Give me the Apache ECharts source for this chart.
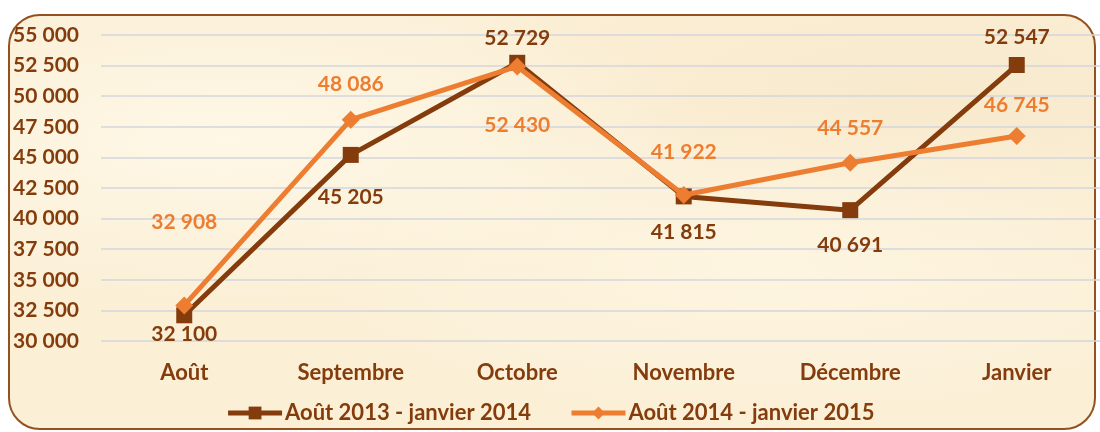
<!DOCTYPE html>
<html>
<head>
<meta charset="utf-8">
<script src="https://cdn.jsdelivr.net/npm/echarts@6/dist/echarts.min.js"></script>
<style>
  html, body { margin: 0; padding: 0; background: #ffffff; }
  #wrap { position: relative; width: 1100px; height: 432px; overflow: hidden; }
  #frame {
    position: absolute; left: 8px; top: 14px; width: 1088px; height: 416px;
    border: 2px solid #94501F; border-radius: 32px; box-sizing: border-box;
    background:
      radial-gradient(ellipse at 20% 30%, rgba(255,250,235,0.8), rgba(255,250,235,0) 40%),
      radial-gradient(ellipse at 70% 60%, rgba(255,248,230,0.7), rgba(255,248,230,0) 45%),
      radial-gradient(ellipse at 85% 20%, rgba(245,228,195,0.5), rgba(245,228,195,0) 40%),
      #FBEFD6;
  }
  #chart { position: absolute; left: 0; top: 0; width: 1100px; height: 432px; }
</style>
</head>
<body>
<div id="wrap">
  <div id="frame"></div>
  <div id="chart"></div>
</div>
<script>
const categories = ['Août', 'Septembre', 'Octobre', 'Novembre', 'Décembre', 'Janvier'];
const seriesNames = ['Août 2013 - janvier 2014', 'Août 2014 - janvier 2015'];
const values2013 = [32100, 45205, 52729, 41815, 40691, 52547];
const values2014 = [32908, 48086, 52430, 41922, 44557, 46745];
const yTicks = { min: 30000, max: 55000, interval: 2500 };

// label vertical offsets (styling only)
const offsets2013 = [19, 42, -25, 36, 35, -28];
const offsets2014 = [-83, -35, 59, -43, -35, -31];

const BROWN = '#843C0C';
const ORANGE = '#ED7D31';
const FONT = 'Lato';

function fmt(v) {
  return String(v).replace(/\B(?=(\d{3})+(?!\d))/g, ' ');
}

function buildData(vals, offs, color) {
  return vals.map((v, i) => ({
    value: v,
    label: {
      show: true, position: 'inside', offset: [0, offs[i]],
      color: color, fontFamily: FONT, fontWeight: 'bold', fontSize: 21,
      formatter: p => fmt(p.value)
    }
  }));
}

const chart = echarts.init(document.getElementById('chart'), null, { renderer: 'canvas' });
chart.setOption({
  backgroundColor: 'transparent',
  animation: false,
  grid: { left: 101, top: 35, width: 1008, height: 306, containLabel: false },
  legend: {
    bottom: 3, left: 'center',
    itemWidth: 54, itemHeight: 16, itemGap: 38,
    textStyle: { color: BROWN, fontFamily: FONT, fontWeight: 'bold', fontSize: 22, padding: [0, 0, 0, -2] },
    data: [
      { name: seriesNames[0], itemStyle: { color: BROWN }, lineStyle: { color: BROWN, width: 5 } },
      { name: seriesNames[1], itemStyle: { color: ORANGE }, lineStyle: { color: ORANGE, width: 5 } }
    ]
  },
  xAxis: {
    type: 'category', data: categories, boundaryGap: true,
    axisLine: { show: false }, axisTick: { show: false },
    axisLabel: { color: BROWN, fontFamily: FONT, fontWeight: 'bold', fontSize: 22, margin: 21 }
  },
  yAxis: {
    type: 'value', min: yTicks.min, max: yTicks.max, interval: yTicks.interval,
    axisLine: { show: false }, axisTick: { show: false },
    splitLine: { lineStyle: { color: '#D3D6DC', width: 1.5 } },
    axisLabel: {
      color: BROWN, fontFamily: FONT, fontWeight: 'bold', fontSize: 21,
      align: 'left', margin: 88, formatter: v => fmt(v)
    }
  },
  series: [
    {
      name: seriesNames[0], type: 'line', data: buildData(values2013, offsets2013, BROWN),
      symbol: 'rect', symbolSize: 16,
      lineStyle: { color: BROWN, width: 5 }, itemStyle: { color: BROWN },
      z: 2
    },
    {
      name: seriesNames[1], type: 'line', data: buildData(values2014, offsets2014, ORANGE),
      symbol: 'diamond', symbolSize: 18,
      lineStyle: { color: ORANGE, width: 5 }, itemStyle: { color: ORANGE },
      z: 3
    }
  ]
});
</script>
</body>
</html>
